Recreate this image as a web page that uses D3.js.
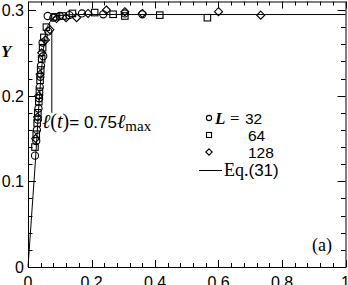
<!DOCTYPE html>
<meta charset="UTF-8">
<style>
body { margin: 0; background: #fff; }
svg { display: block; }
.frame { fill: none; stroke: #000; stroke-width: 1px; }
.tick { stroke: #000; stroke-width: 1px; }
.lbl { font-family: "Liberation Sans", Arial, sans-serif; font-size: 16px; fill: #000; }
.serif { font-family: "Liberation Serif", "Times New Roman", serif; fill: #000; }
.mark { fill: none; stroke: #000; stroke-width: 1.1px; }
.curve { fill: none; stroke: #000; stroke-width: 1px; }
</style>
<svg width="348" height="285"></svg>
<script src="https://d3js.org/d3.v7.min.js"></script>
<script>
// data
var xTicks = [0, 0.2, 0.4, 0.6, 0.8, 1]
var xTickLabels = ["0", "0.2", "0.4", "0.6", "0.8", "1"]
var yTicks = [0, 0.1, 0.2, 0.3]
var yTickLabels = ["0", "0.1", "0.2", "0.3"]

var L32 = [[0.022,0.13],[0.026,0.147],[0.028,0.16],[0.031,0.172],[0.033,0.185],[0.035,0.197],
	[0.037,0.21],[0.039,0.222],[0.041,0.235],[0.048,0.246],[0.046,0.262],[0.064,0.275],
	[0.062,0.293],[0.08,0.291],[0.1,0.293],[0.13,0.294],[0.17,0.296],[0.237,0.295],[0.305,0.296],[0.36,0.295]]
var L64 = [[0.022,0.14],[0.026,0.155],[0.029,0.168],[0.031,0.18],[0.034,0.193],[0.036,0.205],
	[0.038,0.218],[0.04,0.23],[0.043,0.243],[0.046,0.256],[0.05,0.268],[0.058,0.28],
	[0.085,0.292],[0.11,0.293],[0.14,0.296],[0.21,0.297],[0.268,0.295],[0.305,0.293],[0.415,0.294],[0.565,0.291]]
var L128 = [[0.024,0.15],[0.03,0.175],[0.034,0.2],[0.038,0.225],[0.043,0.25],[0.055,0.265],
	[0.069,0.277],[0.09,0.29],[0.12,0.291],[0.153,0.291],[0.189,0.296],[0.247,0.3],
	[0.305,0.298],[0.36,0.296],[0.6,0.298],[0.733,0.294]]
var eq31 = [[0,0],[0.0126,0.0667],[0.0252,0.1345],[0.0314,0.172],[0.0377,0.207],[0.044,0.236],
	[0.0503,0.26],[0.0566,0.275],[0.066,0.284],[0.0786,0.29],[0.1,0.2936],[0.1635,0.2947],[1,0.2947]]
var lmaxX = 0.075
var lmaxY = [0.18, 0.275]

var svg = d3.select("svg")
var x = d3.scaleLinear().domain([0, 1]).range([28, 345.5])
var y = d3.scaleLinear().domain([0, 0.3]).range([267, 10])
var yTop = 1.5

// frame
svg.append("rect").attr("class", "frame")
	.attr("x", x(0) + 0.5).attr("y", yTop + 0.5)
	.attr("width", x(1) - x(0)).attr("height", y(0) - yTop)

// ticks on all sides
var xMinor = d3.range(0, 1.0001, 0.04)
var yMinor = d3.range(0, 0.31, 0.02)
var g = svg.append("g")
xMinor.forEach(function(v) {
	var major = Math.abs(v * 5 - Math.round(v * 5)) < 1e-6
	var len = major ? 7 : 4
	var px = Math.round(x(v)) + 0.5
	g.append("line").attr("class", "tick").attr("x1", px).attr("x2", px).attr("y1", y(0)).attr("y2", y(0) - len)
	g.append("line").attr("class", "tick").attr("x1", px).attr("x2", px).attr("y1", yTop).attr("y2", yTop + len)
})
yMinor.forEach(function(v) {
	var major = Math.abs(v * 10 - Math.round(v * 10)) < 1e-6
	var len = major ? 8 : 4.5
	var py = Math.round(y(v)) + 0.5
	g.append("line").attr("class", "tick").attr("x1", x(0)).attr("x2", x(0) + len).attr("y1", py).attr("y2", py)
	g.append("line").attr("class", "tick").attr("x1", x(1)).attr("x2", x(1) - len).attr("y1", py).attr("y2", py)
})

// tick labels (bottom row is clipped by the image edge, as in the original)
svg.append("g").selectAll("text").data(xTicks).enter().append("text")
	.attr("class", "lbl").attr("x", d => x(d)).attr("y", 288)
	.attr("text-anchor", "middle").text((d, i) => xTickLabels[i])
svg.append("g").selectAll("text").data(yTicks).enter().append("text")
	.attr("class", "lbl").attr("x", 24).attr("y", d => y(d) + 6)
	.attr("text-anchor", "end").text((d, i) => yTickLabels[i])

svg.append("text").attr("class", "serif").attr("x", 1).attr("y", 57)
	.style("font-size", "17px").style("font-style", "italic").style("font-weight", "bold").text("Y")

// curve
var line = d3.line().x(d => x(d[0])).y(d => y(d[1])).curve(d3.curveMonotoneX)
svg.append("path").attr("class", "curve").attr("d", line(eq31))

// vertical marker line
svg.append("line").attr("class", "curve")
	.attr("x1", x(lmaxX)).attr("x2", x(lmaxX)).attr("y1", y(lmaxY[0])).attr("y2", y(lmaxY[1]))

// markers
function circle(sel, r) { sel.append("circle").attr("class", "mark").attr("r", r) }
function square(sel, s) { sel.append("rect").attr("class", "mark").attr("x", -s / 2).attr("y", -s / 2).attr("width", s).attr("height", s) }
function diamond(sel, s) { sel.append("path").attr("class", "mark").attr("d", "M0," + (-s) + "L" + s + ",0L0," + s + "L" + (-s) + ",0Z") }

function plot(data, fn, size) {
	svg.append("g").selectAll("g").data(data).enter().append("g")
		.attr("transform", d => "translate(" + x(d[0]) + "," + y(d[1]) + ")")
		.each(function() { fn(d3.select(this), size) })
}
plot(L32, circle, 3.6)
plot(L64, square, 6.5)
plot(L128, diamond, 4)

// annotation
var ann = svg.append("text").attr("x", 42).attr("y", 128)
ann.append("tspan").attr("class", "serif").style("font-size", "20px").style("font-style", "italic").text("ℓ")
ann.append("tspan").attr("class", "serif").style("font-size", "20px").text("(")
ann.append("tspan").attr("class", "serif").style("font-size", "20px").style("font-style", "italic").text("t")
ann.append("tspan").attr("class", "serif").style("font-size", "20px").text(")")
ann.append("tspan").attr("class", "lbl").style("font-size", "17px").text("= 0.75")
ann.append("tspan").attr("class", "serif").style("font-size", "20px").style("font-style", "italic").text("ℓ")
ann.append("tspan").attr("class", "serif").style("font-size", "15px").attr("dy", 3).text("max")

// legend
var lg = svg.append("g")
var rows = [118, 135, 152]
var legendLabels = ["32", "64", "128"]
lg.append("g").attr("transform", "translate(209," + rows[0] + ")").call(circle, 2.6)
lg.append("g").attr("transform", "translate(209," + rows[1] + ")").call(square, 5)
lg.append("g").attr("transform", "translate(209," + rows[2] + ")").call(diamond, 3.2)
lg.append("text").attr("class", "serif").attr("x", 215).attr("y", rows[0] + 6)
	.style("font-size", "17px").style("font-style", "italic").style("font-weight", "bold").text("L")
lg.append("text").attr("class", "serif").attr("x", 230).attr("y", rows[0] + 6)
	.style("font-size", "17px").text("=")
legendLabels.forEach(function(t, i) {
	lg.append("text").attr("class", "lbl").style("font-size", "15.5px").attr("x", i == 0 ? 245 : 248).attr("y", rows[i] + 5.5).text(t)
})
lg.append("line").attr("class", "curve").attr("x1", 199).attr("x2", 222).attr("y1", 170.5).attr("y2", 170.5)
var eqText = lg.append("text").attr("x", 224).attr("y", 176)
eqText.append("tspan").attr("class", "serif").style("font-size", "18px").text("Eq.")
eqText.append("tspan").attr("class", "lbl").style("font-size", "17px").text("(31)")

svg.append("text").attr("class", "serif").attr("x", 312).attr("y", 251).style("font-size", "18px").text("(a)")
</script>
